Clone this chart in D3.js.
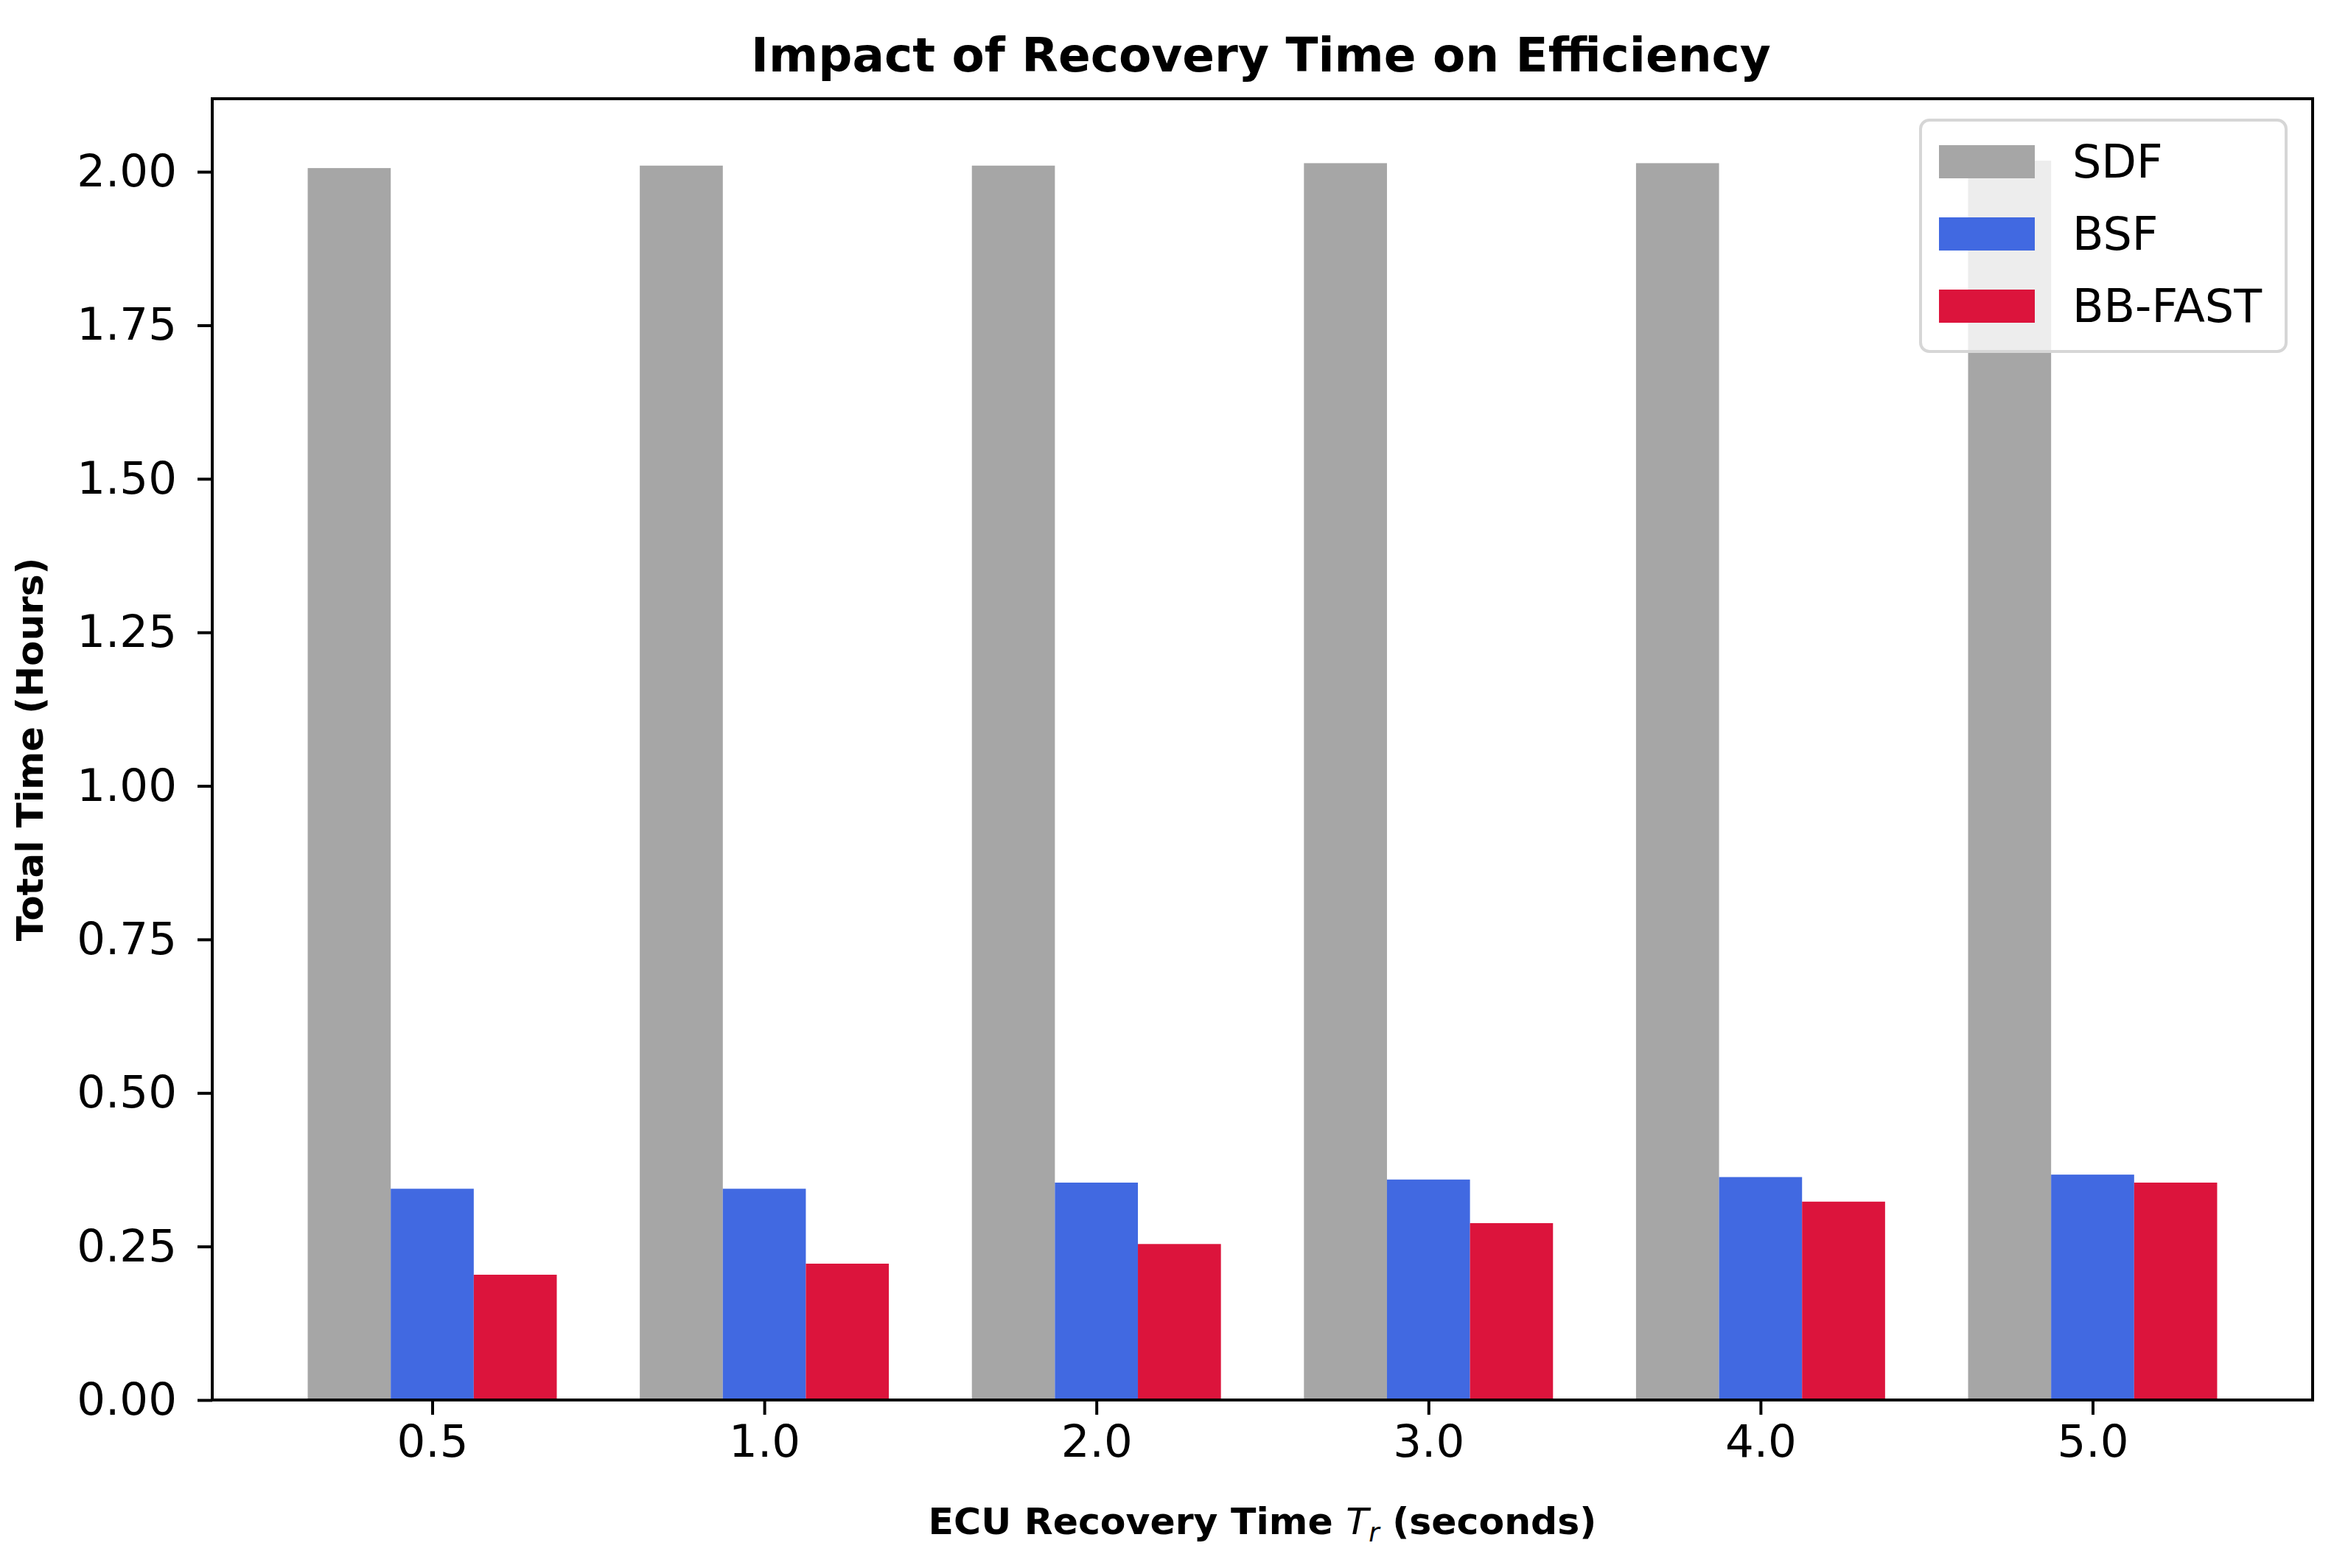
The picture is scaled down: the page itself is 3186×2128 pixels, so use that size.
<!DOCTYPE html>
<html>
<head>
<meta charset="utf-8">
<script src="https://cdn.jsdelivr.net/npm/d3@7"></script>
<style>
  body { margin: 0; background: #fff; }
  text { font-family: "DejaVu Sans", sans-serif; fill: #000; }
</style>
</head>
<body>
<div id="chart"></div>
<script>
// data
const categories = ["0.5", "1.0", "2.0", "3.0", "4.0", "5.0"];
const seriesNames = ["SDF", "BSF", "BB-FAST"];
const sdfValues = [2.006, 2.010, 2.010, 2.014, 2.014, 2.018];
const bsfValues = [0.344, 0.344, 0.354, 0.359, 0.363, 0.367];
const bbFastValues = [0.204, 0.222, 0.254, 0.288, 0.323, 0.354];
const yTicks = [0, 0.25, 0.5, 0.75, 1.0, 1.25, 1.5, 1.75, 2.0];

const colors = ["#a6a6a6", "#4169e1", "#dc143c"];
const allSeries = [sdfValues, bsfValues, bbFastValues];

// figure layout
const W = 3186, H = 2128;
const plot = { left: 288, right: 3138, top: 134, bottom: 1900 };
const barW = 0.25;

const svg = d3.select("#chart")
  .append("svg")
  .attr("width", W)
  .attr("height", H);

svg.append("rect").attr("width", W).attr("height", H).attr("fill", "#fff");

// matplotlib style auto limits: 5% margin on x, y top = max * 1.05
const xMin = -barW * 1.5, xMax = categories.length - 1 + barW * 1.5;
const xPad = (xMax - xMin) * 0.05;
const x = d3.scaleLinear()
  .domain([xMin - xPad, xMax + xPad])
  .range([plot.left, plot.right]);

const yMax = d3.max(allSeries.flat()) * 1.05;
const y = d3.scaleLinear()
  .domain([0, yMax])
  .range([plot.bottom, plot.top]);

// bars
allSeries.forEach((vals, s) => {
  svg.append("g")
    .selectAll("rect")
    .data(vals)
    .enter()
    .append("rect")
    .attr("x", (d, i) => x(i + (s - 1) * barW - barW / 2))
    .attr("width", x(barW) - x(0))
    .attr("y", (d) => y(d))
    .attr("height", (d) => y(0) - y(d))
    .attr("fill", colors[s]);
});

// axes
const tickFont = 61;

const yAxis = svg.append("g")
  .attr("transform", `translate(${plot.left},0)`)
  .call(d3.axisLeft(y).tickValues(yTicks).tickFormat(d3.format(".2f")).tickSize(20).tickPadding(28));

const xAxis = svg.append("g")
  .attr("transform", `translate(0,${plot.bottom})`)
  .call(d3.axisBottom(x)
    .tickValues(d3.range(categories.length))
    .tickFormat((d) => categories[d])
    .tickSize(20)
    .tickPadding(14));

[xAxis, yAxis].forEach((g) => {
  g.select(".domain").remove();
  g.selectAll(".tick line").attr("stroke", "#000").attr("stroke-width", 4);
  g.selectAll(".tick text")
    .style("font-family", "DejaVu Sans")
    .style("font-size", tickFont + "px")
    .attr("fill", "#000");
});

// frame
svg.append("rect")
  .attr("x", plot.left)
  .attr("y", plot.top)
  .attr("width", plot.right - plot.left)
  .attr("height", plot.bottom - plot.top)
  .attr("fill", "none")
  .attr("stroke", "#000")
  .attr("stroke-width", 4);

// title
svg.append("text")
  .attr("x", (plot.left + plot.right) / 2 - 2)
  .attr("y", 97)
  .attr("text-anchor", "middle")
  .style("font-size", "64.5px")
  .style("font-weight", "bold")
  .text("Impact of Recovery Time on Efficiency");

// y label
svg.append("text")
  .attr("transform", `translate(58,${(plot.top + plot.bottom) / 2}) rotate(-90)`)
  .attr("text-anchor", "middle")
  .style("font-size", "50px")
  .style("font-weight", "bold")
  .text("Total Time (Hours)");

// x label
const xl = svg.append("text")
  .attr("x", (plot.left + plot.right) / 2)
  .attr("y", 2082)
  .attr("text-anchor", "middle")
  .style("font-size", "50.5px")
  .style("font-weight", "bold");
xl.append("tspan").text("ECU Recovery Time ");
xl.append("tspan").style("font-style", "italic").style("font-weight", "normal").text("T");
xl.append("tspan").style("font-style", "italic").style("font-weight", "normal")
  .style("font-size", "35px").attr("dy", 10).text("r");
xl.append("tspan").attr("dy", -10).text(" (seconds)");

// legend
const legend = svg.append("g").attr("transform", "translate(2606,163)");
legend.append("rect")
  .attr("width", 496)
  .attr("height", 314)
  .attr("rx", 12)
  .attr("fill", "#fff")
  .attr("fill-opacity", 0.8)
  .attr("stroke", "#d6d6d6")
  .attr("stroke-width", 4);

seriesNames.forEach((name, i) => {
  const row = legend.append("g").attr("transform", `translate(0,${56 + i * 98})`);
  row.append("rect")
    .attr("x", 25)
    .attr("y", -22)
    .attr("width", 130)
    .attr("height", 45)
    .attr("fill", colors[i]);
  row.append("text")
    .attr("x", 206)
    .attr("y", 0)
    .attr("dy", "0.36em")
    .style("font-size", "62px")
    .text(name);
});
</script>
</body>
</html>
